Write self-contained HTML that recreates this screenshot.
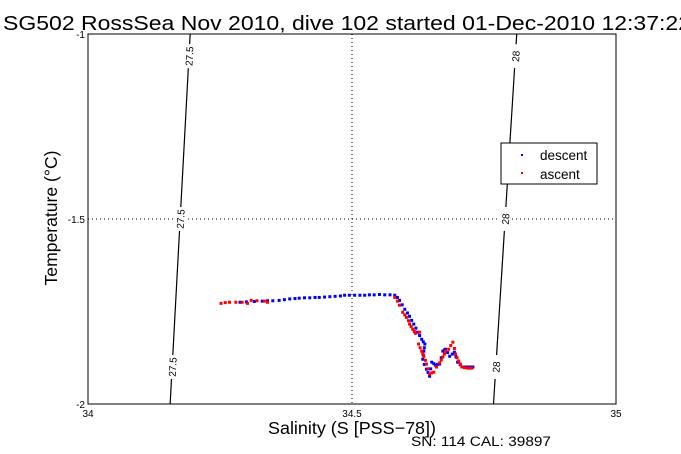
<!DOCTYPE html>
<html><head><meta charset="utf-8"><style>
html,body{margin:0;padding:0;background:#fff;}
svg{display:block;font-family:"Liberation Sans",sans-serif;}
</style></head><body>
<svg id="chart" width="681" height="454" viewBox="0 0 681 454">
<rect x="0" y="0" width="681" height="454" fill="#fff"/>
<text x="3" y="30" font-size="20" textLength="688" lengthAdjust="spacingAndGlyphs">SG502 RossSea Nov 2010, dive 102 started 01-Dec-2010 12:37:22</text>
<g id="grid"></g>
<g id="contours"></g>
<g id="marks"></g>
<rect x="88" y="34" width="528" height="370" fill="none" stroke="#000" stroke-width="1"/>
<g id="ticks" font-size="10"></g>
<text x="352" y="434" font-size="17.5" text-anchor="middle" textLength="168" lengthAdjust="spacingAndGlyphs">Salinity (S [PSS−78])</text>
<text transform="translate(57,218) rotate(-90)" font-size="17.5" text-anchor="middle" textLength="135" lengthAdjust="spacingAndGlyphs">Temperature (°C)</text>
<text x="411" y="446" font-size="13.5" textLength="140" lengthAdjust="spacingAndGlyphs">SN: 114  CAL: 39897</text>
<g>
<rect x="501" y="143" width="96" height="41" fill="#fff" stroke="#000"/>
<rect x="521" y="154" width="2" height="2" fill="#00f"/>
<text x="540" y="160" font-size="13.5">descent</text>
<rect x="521" y="172" width="2" height="2" fill="#f00"/>
<text x="540" y="179" font-size="13.5">ascent</text>
</g>
</svg>
<script>
const xTicks=[34,34.5,35];
const xTickLabels=["34","34.5","35"];
const yTicks=[-2,-1.5,-1];
const yTickLabels=["-2","-1.5","-1"];
const contourLevels=["27.5","28"];
const contourSTop=[34.1935,34.812];
const contourSBottom=[34.1556,34.768];
const descentS=[34.288,34.300,34.315,34.330,34.340,34.350,34.362,34.372,34.382,34.392,34.400,34.410,34.420,34.430,34.438,34.448,34.458,34.468,34.478,34.486,34.495,34.505,34.515,34.524,34.533,34.542,34.552,34.562,34.572,34.581,34.586,34.590,34.595,34.600,34.605,34.609,34.613,34.617,34.621,34.624,34.628,34.632,34.635,34.638,34.637,34.636,34.635,34.634,34.637,34.641,34.644,34.647,34.649,34.651,34.655,34.658,34.662,34.666,34.669,34.672,34.675,34.677,34.681,34.685,34.690,34.694,34.697,34.700,34.705,34.710,34.715,34.720,34.725,34.729];
const descentT=[-1.725,-1.724,-1.723,-1.722,-1.721,-1.721,-1.720,-1.718,-1.716,-1.715,-1.714,-1.713,-1.713,-1.712,-1.712,-1.711,-1.710,-1.709,-1.708,-1.706,-1.706,-1.706,-1.706,-1.706,-1.705,-1.705,-1.704,-1.705,-1.705,-1.706,-1.712,-1.720,-1.732,-1.744,-1.754,-1.763,-1.774,-1.784,-1.795,-1.806,-1.815,-1.825,-1.832,-1.838,-1.848,-1.857,-1.868,-1.879,-1.893,-1.906,-1.915,-1.925,-1.905,-1.887,-1.891,-1.895,-1.893,-1.892,-1.875,-1.857,-1.854,-1.852,-1.861,-1.871,-1.865,-1.860,-1.873,-1.887,-1.894,-1.900,-1.900,-1.900,-1.900,-1.900];
const ascentS=[34.252,34.260,34.268,34.280,34.292,34.302,34.309,34.320,34.334,34.340,34.581,34.586,34.590,34.596,34.600,34.603,34.607,34.609,34.612,34.615,34.618,34.620,34.628,34.626,34.629,34.632,34.634,34.636,34.639,34.641,34.644,34.647,34.651,34.655,34.660,34.666,34.669,34.672,34.675,34.677,34.683,34.687,34.691,34.694,34.696,34.699,34.702,34.705,34.708,34.713,34.719,34.723,34.727];
const ascentT=[-1.728,-1.726,-1.725,-1.725,-1.725,-1.728,-1.720,-1.721,-1.722,-1.725,-1.712,-1.722,-1.733,-1.752,-1.759,-1.766,-1.775,-1.784,-1.791,-1.798,-1.804,-1.809,-1.806,-1.838,-1.848,-1.857,-1.864,-1.871,-1.882,-1.892,-1.905,-1.919,-1.916,-1.914,-1.900,-1.889,-1.881,-1.873,-1.865,-1.857,-1.852,-1.842,-1.833,-1.850,-1.865,-1.875,-1.884,-1.892,-1.900,-1.902,-1.903,-1.903,-1.903];

const NS='http://www.w3.org/2000/svg';
const L=88,R=616,T=34,B=404;
const xs=v=>L+(v-34)/(35-34)*(R-L);
const ys=v=>T+(-1-v)/(-1-(-2))*(B-T);
function mk(tag,attrs,parent){const e=document.createElementNS(NS,tag);for(const k in attrs)e.setAttribute(k,attrs[k]);parent.appendChild(e);return e;}
const grid=document.getElementById('grid'),ticks=document.getElementById('ticks'),cont=document.getElementById('contours'),marks=document.getElementById('marks');
xTicks.forEach((v,i)=>{
  const x=xs(v);
  if(i>0&&i<xTicks.length-1){const g=mk('line',{x1:x,y1:T,x2:x,y2:B,stroke:'#000','stroke-dasharray':'1,3'},grid);
  
  }
  const t=mk('text',{x:x,y:B+13,'text-anchor':'middle'},ticks);t.textContent=xTickLabels[i];
  
  
});
yTicks.forEach((v,i)=>{
  const y=ys(v);
  if(i>0&&i<yTicks.length-1){const g=mk('line',{x1:L,y1:y,x2:R,y2:y,stroke:'#000','stroke-dasharray':'1,3'},grid);
  
  }
  const t=mk('text',{x:L-3,y:y+4,'text-anchor':'end'},ticks);t.textContent=yTickLabels[i];
  
  
});
const labelFrac=[0.06,0.5,0.9];
contourLevels.forEach((lev,i)=>{
  const x1=xs(contourSTop[i]),x2=xs(contourSBottom[i]);
  const ln=mk('line',{x1:x1,y1:T,x2:x2,y2:B,stroke:'#000','stroke-width':1.2},cont);
  
  
  const ang=Math.atan2(B-T,x2-x1)*180/Math.PI;
  labelFrac.forEach(f=>{
    const cx=x1+(x2-x1)*f,cy=T+(B-T)*f;
    const g=mk('g',{transform:`translate(${cx},${cy}) rotate(${ang-180})`},cont);
    mk('rect',{x:-12,y:-6,width:24,height:12,fill:'#fff'},g);
    const t=mk('text',{x:0,y:4,'text-anchor':'middle','font-size':'10'},g);t.textContent=lev;
    
    
  });
});
function dots(S,Tv,color,name){
  S.forEach((s,i)=>{
    const r=mk('rect',{x:xs(s)-1.5,y:ys(Tv[i])-1.5,width:3,height:3,fill:color},marks);
    
    
  });
}
dots(descentS,descentT,'#00f','descent-point');
dots(ascentS,ascentT,'#f00','ascent-point');
</script>
</body></html>
